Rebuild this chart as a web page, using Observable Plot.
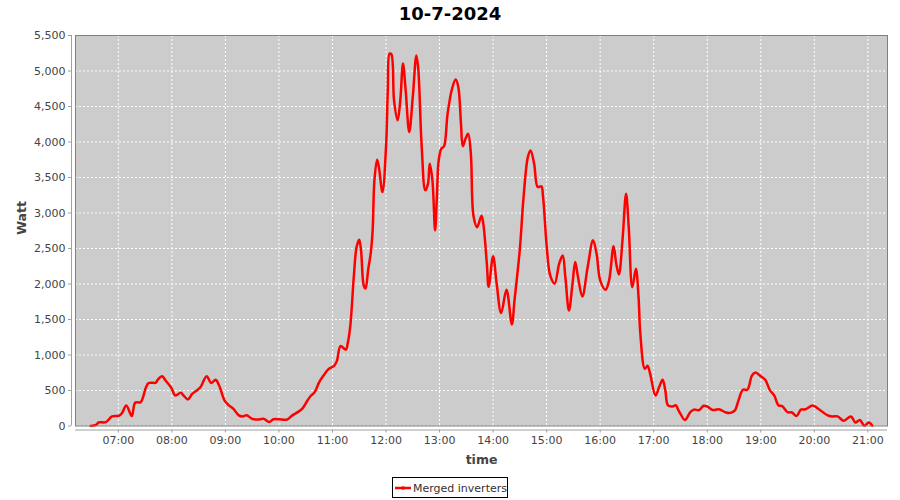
<!DOCTYPE html>
<html>
<head>
<meta charset="utf-8">
<script src="https://cdn.jsdelivr.net/npm/d3@7"></script>
<script src="https://cdn.jsdelivr.net/npm/@observablehq/plot@0.6"></script>
<style>
  html, body { margin: 0; padding: 0; background: #ffffff; }
  body { width: 900px; height: 500px; position: relative; overflow: hidden; font-family: "DejaVu Sans", sans-serif; }
  #title { position: absolute; left: 0; top: 3px; width: 900px; text-align: center; font: bold 18px "DejaVu Sans"; line-height: 22px; color: #000; }
  #chart { position: absolute; left: 0; top: 28px; }
  #legend { position: absolute; left: 392px; top: 477px; width: 116px; height: 21px; box-sizing: border-box; border: 1px solid #000; background: #fff; }
  #legend svg { display: block; }
</style>
</head>
<body>
<div id="title">10-7-2024</div>
<div id="chart"></div>
<div id="legend"></div>
<script>
// ---- data ----
const title = "10-7-2024";
const seriesName = "Merged inverters";
const yLabel = "Watt";
const xLabel = "time";
const yTicks = [0, 500, 1000, 1500, 2000, 2500, 3000, 3500, 4000, 4500, 5000, 5500];
const xTickLabels = ["07:00","08:00","09:00","10:00","11:00","12:00","13:00","14:00","15:00","16:00","17:00","18:00","19:00","20:00","21:00"];
const times = [
  "06:29","06:35","06:38","06:46","06:53","07:01","07:04","07:09","07:15","07:19",
  "07:25","07:31","07:34","07:42","07:44","07:49","07:53","07:59","08:04","08:10",
  "08:13","08:18","08:23","08:28","08:32","08:39","08:44","08:49","08:53","08:59",
  "09:04","09:09","09:15","09:19","09:24","09:30","09:36","09:43","09:49","09:54",
  "10:00","10:09","10:15","10:21","10:26","10:32","10:36","10:40","10:45","10:50",
  "10:55","11:02","11:05","11:09","11:15","11:17","11:20","11:24","11:27","11:30",
  "11:32","11:35","11:37","11:40","11:43","11:45","11:47","11:50","11:52","11:56",
  "12:00","12:02","12:04","12:06","12:09","12:13","12:16","12:19","12:22","12:26",
  "12:30","12:34","12:36","12:40","12:44","12:47","12:49","12:52","12:55","12:57",
  "12:59","13:02","13:05","13:09","13:14","13:18","13:21","13:24","13:26","13:29",
  "13:32","13:35","13:38","13:42","13:47","13:49","13:53","13:55","14:00","14:04",
  "14:09","14:15","14:21","14:24","14:30","14:34","14:39","14:42","14:46","14:50",
  "14:54","14:56","15:00","15:04","15:09","15:14","15:18","15:21","15:25","15:29",
  "15:32","15:35","15:40","15:46","15:52","15:56","16:00","16:06","16:10","16:15",
  "16:18","16:21","16:25","16:29","16:32","16:36","16:40","16:43","16:45","16:50",
  "16:53","16:56","17:02","17:06","17:10","17:13","17:16","17:21","17:25","17:27",
  "17:30","17:35","17:41","17:45","17:51","17:56","18:00","18:06","18:13","18:21",
  "18:26","18:31","18:35","18:40","18:45","18:47","18:50","18:54","19:00","19:05",
  "19:10","19:15","19:20","19:24","19:30","19:35","19:40","19:45","19:50","19:58",
  "20:03","20:15","20:20","20:26","20:33","20:41","20:46","20:51","20:56","21:01",
  "21:05"
];
const watts = [
  0,15,50,55,135,145,180,290,140,330,
  335,545,605,610,650,700,640,545,430,470,
  430,375,455,500,545,700,605,650,570,360,
  290,240,150,135,150,100,90,100,55,95,
  95,90,150,195,240,360,430,475,615,710,
  795,850,920,1125,1075,1160,1415,2120,2520,2625,
  2475,1980,1935,2200,2450,2755,3460,3750,3645,3295,
  3930,4730,5245,5235,4585,4305,4585,5105,4730,4140,
  4635,5220,5055,3930,3320,3410,3695,3460,2755,3225,
  3740,3905,3940,4400,4750,4880,4775,4260,3940,4045,
  4115,3850,2960,2800,2960,2850,2285,1960,2390,2005,
  1590,1920,1430,1770,2495,3200,3790,3880,3695,3365,
  3375,3225,2545,2120,2005,2285,2400,2095,1625,2005,
  2310,2110,1825,2240,2615,2425,2050,1920,2050,2530,
  2285,2135,2615,3270,2800,1955,2215,1815,1300,805,
  850,735,430,545,650,500,290,275,290,240,
  170,85,195,230,225,285,275,225,235,190,
  185,220,360,510,510,570,710,755,700,650,
  510,430,290,280,195,190,140,230,235,290,
  255,150,135,135,75,135,50,85,5,50,
  5
];
const xDomainLabels = ["06:12", "21:22"];

// ---- build ----
const toDate = s => { const [h, m] = s.split(":").map(Number); return new Date(Date.UTC(2024, 6, 10, h, m)); };
const data = times.map((t, i) => ({ time: toDate(t), watt: watts[i] }));
const xTicks = xTickLabels.map(toDate);
const xDomain = xDomainLabels.map(toDate);

const gridStyle = { stroke: "#ffffff", strokeOpacity: 1, strokeWidth: 1, strokeDasharray: "2,2" };

const chart = Plot.plot({
  width: 900,
  height: 442,
  marginLeft: 75,
  marginRight: 13,
  marginTop: 7,
  marginBottom: 44.5,
  style: { fontFamily: "DejaVu Sans", fontSize: "11px", color: "#444", background: "transparent", overflow: "visible" },
  x: { type: "utc", domain: xDomain },
  y: { domain: [0, 5500] },
  marks: [
    Plot.frame({ fill: "#cccccc", stroke: null }),
    Plot.gridX(xTicks, gridStyle),
    Plot.gridY(yTicks, gridStyle),
    Plot.line(data, { x: "time", y: "watt", stroke: "#ff0000", strokeWidth: 2.5, curve: "catmull-rom" }),
    Plot.frame({ stroke: "#808080", strokeWidth: 1 }),
    Plot.ruleX([xDomain[0]], { dx: -4, stroke: "#a0a0a0" }),
    Plot.ruleY([0], { dy: 4, stroke: "#a0a0a0" }),
    Plot.axisY(yTicks, { tickFormat: d3.format(","), dx: -4, tickSize: 3, tickPadding: 3, label: null, stroke: "#a0a0a0", fill: "#444" }),
    Plot.axisX(xTicks, { tickFormat: d3.utcFormat("%H:%M"), dy: 4, tickSize: 3, tickPadding: 3, label: null, stroke: "#a0a0a0", fill: "#444" }),
    Plot.text([yLabel], { frameAnchor: "left", dx: -54, dy: 4, rotate: -90, fontSize: 12.5, fontWeight: "bold", fill: "#444" }),
    Plot.text([xLabel], { frameAnchor: "bottom", dy: 37.5, fontSize: 12.5, fontWeight: "bold", fill: "#444" })
  ]
});
document.getElementById("chart").appendChild(chart);
document.getElementById("title").textContent = title;

// legend
const lg = d3.select("#legend").append("svg").attr("width", 114).attr("height", 19);
lg.append("line").attr("x1", 2).attr("x2", 18).attr("y1", 10).attr("y2", 10).attr("stroke", "#ff0000").attr("stroke-width", 2.5);
lg.append("rect").attr("x", 8.5).attr("y", 8.5).attr("width", 3).attr("height", 3).attr("fill", "#ff0000");
lg.append("text").attr("x", 20).attr("y", 14).attr("font-family", "DejaVu Sans").attr("font-size", 11).attr("fill", "#333").text(seriesName);
</script>
</body>
</html>
